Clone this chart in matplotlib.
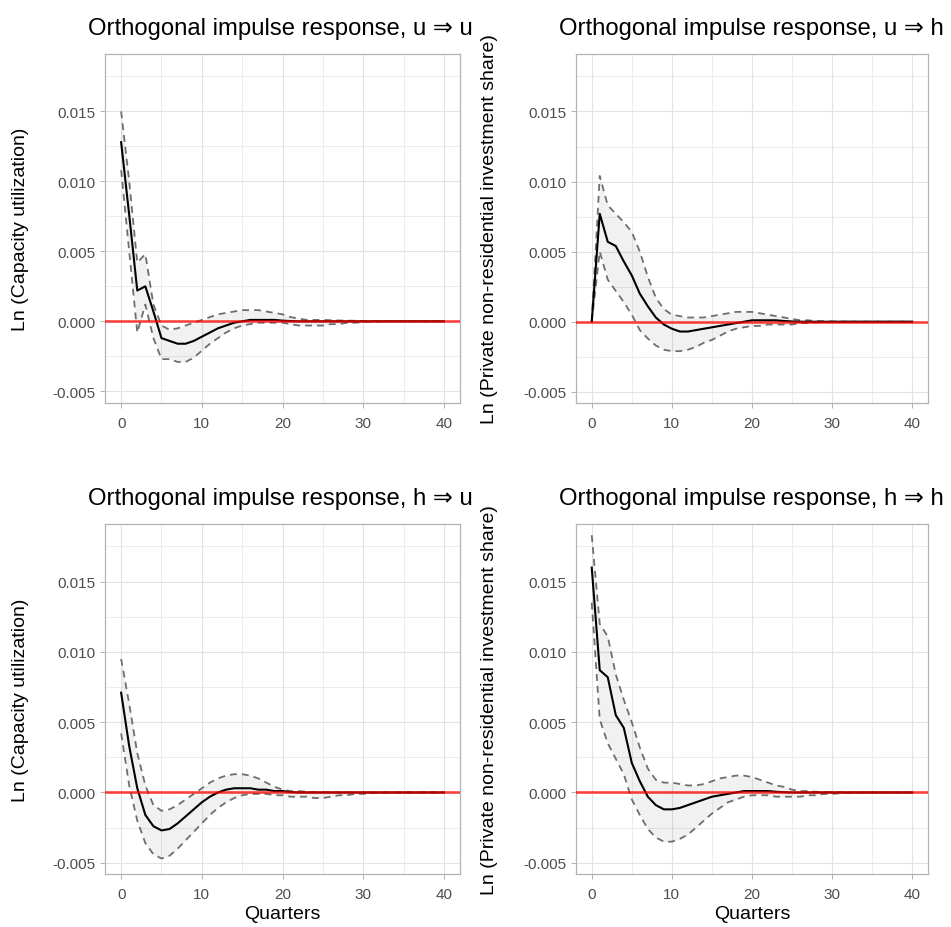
import matplotlib
matplotlib.use("Agg")
import matplotlib.pyplot as plt
from matplotlib.transforms import Bbox, TransformedBbox

plt.rcParams['font.family'] = ['Liberation Sans', 'DejaVu Sans']
plt.rcParams['axes.unicode_minus'] = False

quarters = list(range(41))

# u => u
uu_irf = [0.0128, 0.0076, 0.0022, 0.0025, 0.0007, -0.0012, -0.0014, -0.0016, -0.0016, -0.0014,
          -0.0011, -0.0008, -0.0005, -0.0003, -0.0001, 0.0000, 0.0001, 0.0001, 0.0001, 0.0001,
          0.00005, 0.00002, 0.0, 0.0, 0.0, 0.0, 0.0, 0.0, 0.0, 0.0,
          0.0, 0.0, 0.0, 0.0, 0.0, 0.0, 0.0, 0.0, 0.0, 0.0, 0.0]
uu_upper = [0.0150, 0.0100, 0.0042, 0.0048, 0.0012, -0.0003, -0.0006, -0.0005, -0.0003, -0.0001,
            0.0001, 0.0003, 0.0005, 0.0006, 0.0007, 0.0008, 0.0008, 0.0008, 0.0007, 0.0006,
            0.0005, 0.0003, 0.0002, 0.0001, 0.0001, 0.0001, 0.00008, 0.00006, 0.00005, 0.00004,
            0.00003, 0.00002, 0.00002, 0.00001, 0.00001, 0.00001, 0.0, 0.0, 0.0, 0.0, 0.0]
uu_lower = [0.0108, 0.0050, -0.0008, 0.0012, -0.0012, -0.0027, -0.0027, -0.0029, -0.0029, -0.0026,
            -0.0021, -0.0016, -0.0012, -0.0008, -0.0005, -0.0003, -0.0002, -0.0001, -0.0001, -0.0001,
            -0.0001, -0.0002, -0.0003, -0.0003, -0.0003, -0.0003, -0.0002, -0.0002, -0.0001, -0.0001,
            -0.00005, -0.00003, -0.00002, -0.00001, 0.0, 0.0, 0.0, 0.0, 0.0, 0.0, 0.0]

# u => h
uh_irf = [0.0, 0.0077, 0.0057, 0.0054, 0.0043, 0.0033, 0.0020, 0.0011, 0.0003, -0.0002,
          -0.0005, -0.0007, -0.0007, -0.0006, -0.0005, -0.0004, -0.0003, -0.0002, -0.0001, 0.0000,
          0.0001, 0.0001, 0.0001, 0.0001, 0.00005, 0.00002, 0.0, 0.0, 0.0, 0.0,
          0.0, 0.0, 0.0, 0.0, 0.0, 0.0, 0.0, 0.0, 0.0, 0.0, 0.0]
uh_upper = [0.0, 0.0104, 0.0083, 0.0077, 0.0071, 0.0064, 0.0050, 0.0032, 0.0017, 0.0009,
            0.0005, 0.0004, 0.0003, 0.0003, 0.0003, 0.0004, 0.0005, 0.0006, 0.0007, 0.0007,
            0.0007, 0.0006, 0.0005, 0.0004, 0.0003, 0.0002, 0.0001, 0.0001, 0.00005, 0.00003,
            0.00002, 0.00001, 0.00001, 0.0, 0.0, 0.0, 0.0, 0.0, 0.0, 0.0, 0.0]
uh_lower = [0.0, 0.0050, 0.0030, 0.0022, 0.0014, 0.0005, -0.0006, -0.0012, -0.0017, -0.0020,
            -0.0021, -0.0021, -0.0020, -0.0018, -0.0015, -0.0013, -0.0010, -0.0007, -0.0005, -0.0004,
            -0.0003, -0.0003, -0.0002, -0.0002, -0.0002, -0.0002, -0.0001, -0.0001, -0.00005, -0.00003,
            -0.00002, -0.00001, 0.0, 0.0, 0.0, 0.0, 0.0, 0.0, 0.0, 0.0, 0.0]

# h => u
hu_irf = [0.0071, 0.0033, 0.0003, -0.0016, -0.0024, -0.0027, -0.0026, -0.0022, -0.0017, -0.0012,
          -0.0007, -0.0003, 0.0000, 0.0002, 0.0003, 0.0003, 0.0003, 0.0002, 0.0002, 0.0001,
          0.0001, 0.00003, 0.0, 0.0, 0.0, 0.0, 0.0, 0.0, 0.0, 0.0,
          0.0, 0.0, 0.0, 0.0, 0.0, 0.0, 0.0, 0.0, 0.0, 0.0, 0.0]
hu_upper = [0.0095, 0.0063, 0.0028, 0.0005, -0.0009, -0.0013, -0.0012, -0.0009, -0.0005, -0.0001,
            0.0003, 0.0007, 0.0010, 0.0012, 0.0013, 0.0013, 0.0012, 0.0010, 0.0007, 0.0004,
            0.0002, 0.0001, 0.0001, 0.00005, 0.00003, 0.00002, 0.00001, 0.0, 0.0, 0.0,
            0.0, 0.0, 0.0, 0.0, 0.0, 0.0, 0.0, 0.0, 0.0, 0.0, 0.0]
hu_lower = [0.0042, 0.0005, -0.0020, -0.0036, -0.0044, -0.0047, -0.0045, -0.0040, -0.0034, -0.0028,
            -0.0022, -0.0016, -0.0011, -0.0007, -0.0004, -0.0002, -0.0001, -0.0001, -0.0001, -0.0002,
            -0.0002, -0.0003, -0.0003, -0.0003, -0.0004, -0.0004, -0.0003, -0.0002, -0.0002, -0.0001,
            -0.0001, -0.00005, -0.00003, -0.00002, -0.00001, 0.0, 0.0, 0.0, 0.0, 0.0, 0.0]

# h => h
hh_irf = [0.0160, 0.0087, 0.0082, 0.0055, 0.0046, 0.0021, 0.0008, -0.0003, -0.0009, -0.0012,
          -0.0012, -0.0011, -0.0009, -0.0007, -0.0005, -0.0003, -0.0002, -0.0001, 0.0000, 0.0001,
          0.0001, 0.0001, 0.0001, 0.00005, 0.00002, 0.0, 0.0, 0.0, 0.0, 0.0,
          0.0, 0.0, 0.0, 0.0, 0.0, 0.0, 0.0, 0.0, 0.0, 0.0, 0.0]
hh_upper = [0.0183, 0.0120, 0.0111, 0.0084, 0.0066, 0.0050, 0.0032, 0.0017, 0.0009, 0.0007,
            0.0007, 0.0006, 0.0005, 0.0005, 0.0006, 0.0008, 0.0010, 0.0011, 0.0012, 0.0012,
            0.0011, 0.0009, 0.0007, 0.0005, 0.0004, 0.0002, 0.0001, 0.0001, 0.00005, 0.00003,
            0.00002, 0.00001, 0.0, 0.0, 0.0, 0.0, 0.0, 0.0, 0.0, 0.0, 0.0]
hh_lower = [0.0135, 0.0052, 0.0035, 0.0024, 0.0013, -0.0005, -0.0016, -0.0026, -0.0032, -0.0035,
            -0.0035, -0.0033, -0.0030, -0.0025, -0.0020, -0.0015, -0.0011, -0.0007, -0.0005, -0.0003,
            -0.0002, -0.0002, -0.0002, -0.0003, -0.0003, -0.0003, -0.0003, -0.0002, -0.0002, -0.0001,
            -0.0001, -0.00005, -0.00003, -0.00002, -0.00001, 0.0, 0.0, 0.0, 0.0, 0.0, 0.0]

titles = ["Orthogonal impulse response, u \u21d2 u", "Orthogonal impulse response, u \u21d2 h",
          "Orthogonal impulse response, h \u21d2 u", "Orthogonal impulse response, h \u21d2 h"]
ylabels = ["Ln (Capacity utilization)", "Ln (Private non-residential investment share)",
           "Ln (Capacity utilization)", "Ln (Private non-residential investment share)"]
xlabel = "Quarters"
xticks = [0, 10, 20, 30, 40]
yticks = [-0.005, 0.0, 0.005, 0.010, 0.015]
ytick_labels = ["-0.005", "0.000", "0.005", "0.010", "0.015"]

series = [(uu_irf, uu_lower, uu_upper), (uh_irf, uh_lower, uh_upper),
          (hu_irf, hu_lower, hu_upper), (hh_irf, hh_lower, hh_upper)]

W, H = 951, 928
fig = plt.figure(figsize=(W / 100, H / 100), dpi=100)

# panel boxes in pixels: left, top, right, bottom
panels = [(105, 55, 460, 403.5), (575.7, 55, 928.3, 404),
          (105, 525, 460, 875), (575.7, 525, 928.3, 875)]
# each plot's own cell, titles get cut at its edge
cells = [(0, 0, 475.5, 464), (475.5, 0, 951, 464),
         (0, 464, 475.5, 928), (475.5, 464, 951, 928)]
ylabel_x = [21, 490, 21, 490]

grid_col = '#E3E3E3'
frame_col = '#B3B3B3'

for i, (irf, lo, up) in enumerate(series):
    l, t, r, b = panels[i]
    ax = fig.add_axes([l / W, 1 - b / H, (r - l) / W, (b - t) / H])

    ax.fill_between(quarters, lo, up, color='black', alpha=0.055, lw=0)
    ax.plot(quarters, up, color='#6E6E6E', lw=1.3, ls=(0, (3.8, 2.8)))
    ax.plot(quarters, lo, color='#6E6E6E', lw=1.3, ls=(0, (3.8, 2.8)))
    ax.plot(quarters, irf, color='black', lw=1.5)
    ax.axhline(0, color='red', lw=1.9, alpha=0.72, zorder=5)

    ax.set_xlim(-2, 42)
    ax.set_ylim(-0.0058, 0.0191)
    ax.set_xticks(xticks)
    ax.set_xticks([5, 15, 25, 35], minor=True)
    ax.set_yticks(yticks, ytick_labels)
    ax.set_yticks([-0.0025, 0.0025, 0.0075, 0.0125, 0.0175], minor=True)
    ax.grid(which='major', color=grid_col, lw=0.8)
    ax.grid(which='minor', color=grid_col, lw=0.45)
    ax.set_axisbelow(True)
    for s in ax.spines.values():
        s.set_color(frame_col)
        s.set_linewidth(0.9)
    ax.tick_params(which='major', length=3.5, width=0.7, color=frame_col,
                   labelcolor='#4D4D4D', labelsize=11)
    ax.tick_params(axis='x', which='major', pad=6)
    ax.tick_params(axis='y', which='major', pad=3)
    ax.tick_params(which='minor', length=0)

    ax.set_ylabel(ylabels[i], fontsize=14, va='center', color='black')
    ax.yaxis.set_label_coords((ylabel_x[i] - l) / (r - l), 0.5)
    if i >= 2:
        ax.set_xlabel(xlabel, fontsize=14, va='center')
        ax.xaxis.set_label_coords(0.5, (b - 915) / (b - t))

    cx0, cy0, cx1, cy1 = cells[i]
    txt = fig.text((l - 17) / W, 1 - (t - 20) / H, titles[i], fontsize=17.2,
                   ha='left', va='baseline')
    clip = TransformedBbox(Bbox.from_extents(cx0 / W, 1 - cy1 / H, cx1 / W, 1 - cy0 / H),
                           fig.transFigure)
    txt.set_clip_box(clip)
    txt.set_clip_on(True)

fig.savefig("out.png", dpi=100)
